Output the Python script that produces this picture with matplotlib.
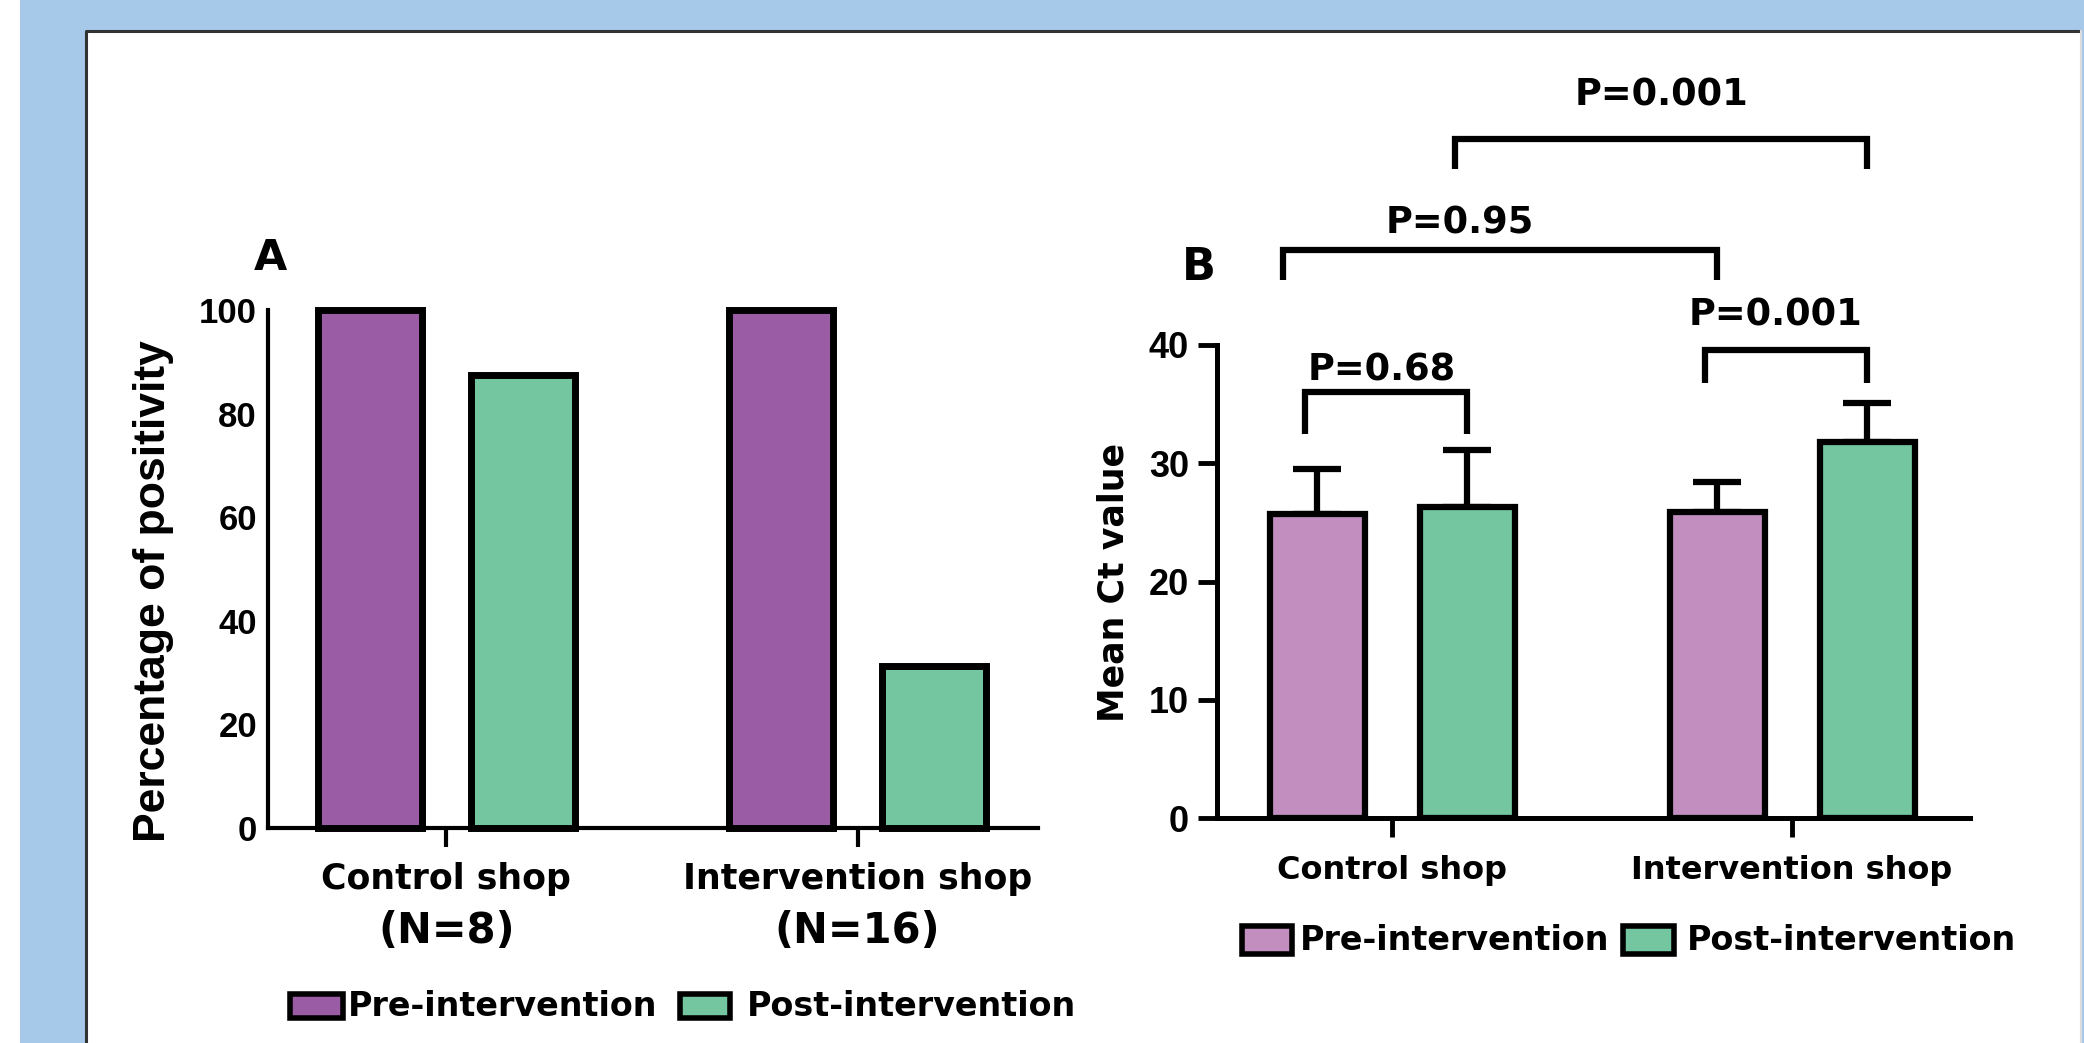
import matplotlib

matplotlib.use("Agg")
import matplotlib.pyplot as plt
import numpy as np
from matplotlib.lines import Line2D
from matplotlib.patches import Rectangle
from matplotlib.transforms import blended_transform_factory

W, H = 2084, 1043

# panel A: percentage of positive samples
groups_a = ["Control shop", "Intervention shop"]
group_n_a = ["(N=8)", "(N=16)"]
pre_positivity = [100, 100]
post_positivity = [87.5, 31.25]
yticks_a = [0, 20, 40, 60, 80, 100]

# panel B: mean Ct value with SD (upper only)
groups_b = ["Control shop", "Intervention shop"]
pre_ct_mean = [25.7, 25.9]
post_ct_mean = [26.3, 31.8]
pre_ct_sd = [3.8, 2.5]
post_ct_sd = [4.8, 3.3]
yticks_b = [0, 10, 20, 30, 40]

series_labels = ["Pre-intervention", "Post-intervention"]

# comparisons in B: bars 0=control pre, 1=control post, 2=intervention pre, 3=intervention post
comp_bars = [(0, 1), (2, 3), (0, 2), (1, 3)]
comp_top = [36.05, 39.6, 48.0, 57.4]
comp_leg = [32.5, 36.8, 45.5, 54.9]
comp_p = ["P=0.68", "P=0.001", "P=0.95", "P=0.001"]

BLUE = "#a6c9ea"
PURPLE_A = "#9b5ca6"
GREEN = "#73c6a0"
PURPLE_B = "#c28dbf"
BOLD = {"family": "DejaVu Sans", "weight": "bold"}
ARIAL = {"family": "Liberation Sans", "weight": "bold"}


def fx(px):
    return px / W


def fy(py):
    return 1 - py / H


fig = plt.figure(figsize=(W / 100, H / 100), dpi=100, facecolor="white")

# blue frame and the white panel border
fig.add_artist(Rectangle((fx(20), 0), fx(W - 20), 1, transform=fig.transFigure,
                         facecolor=BLUE, edgecolor="none", zorder=0))
fig.add_artist(Rectangle((fx(86), 0), fx(2080 - 86), fy(31), transform=fig.transFigure,
                         facecolor="white", edgecolor="none", zorder=0))
fig.add_artist(Line2D([fx(86), fx(86), fx(2080)], [0, fy(31), fy(31)],
                      transform=fig.transFigure, color="#333333", linewidth=2.2, zorder=1))
fig.add_artist(Line2D([fx(2081), fx(2081)], [0, fy(31)], transform=fig.transFigure,
                      color="#dddddd", linewidth=1.5, zorder=1))

# ---------------- panel A ----------------
axA = fig.add_axes([fx(268), fy(828), fx(1038 - 268), (828 - 310) / H])
xa = np.arange(len(groups_a))
off_a, width_a = 0.186, 0.253
axA.bar(xa - off_a, pre_positivity, width_a, color=PURPLE_A, edgecolor="black",
        linewidth=5, zorder=3, clip_on=False)
axA.bar(xa + off_a, post_positivity, width_a, color=GREEN, edgecolor="black",
        linewidth=5, zorder=3, clip_on=False)
axA.set_xlim(-0.434, 1.439)
axA.set_ylim(0, 100)
axA.set_yticks(yticks_a)
axA.set_xticks(xa)
axA.set_xticklabels([])
axA.tick_params(axis="y", length=0, pad=8, labelsize=25, labelfontfamily="Liberation Sans")
axA.tick_params(axis="x", length=14, width=3, direction="out")
for lbl in axA.get_yticklabels():
    lbl.set_fontweight("bold")
for side in ["top", "right"]:
    axA.spines[side].set_visible(False)
for side in ["left", "bottom"]:
    axA.spines[side].set_linewidth(3)
axA.patch.set_alpha(0)

trA = blended_transform_factory(axA.transData, fig.transFigure)
for x, name, n in zip(xa, groups_a, group_n_a):
    axA.text(x, fy(879), name, transform=trA, ha="center", va="center", fontsize=25, **BOLD)
    axA.text(x, fy(931), n, transform=trA, ha="center", va="center", fontsize=30, **BOLD)

fig.text(fx(153), fy(591), "Percentage of positivity", rotation=90, ha="center",
         va="center", fontsize=32, **ARIAL)
fig.text(fx(270), fy(258), "A", ha="center", va="center", fontsize=31, **BOLD)

# legend A
for (x0, x1, tx), color, label in zip([(290, 343, 348), (680, 730, 747)],
                                      [PURPLE_A, GREEN], series_labels):
    fig.add_artist(Rectangle((fx(x0), fy(1018)), fx(x1 - x0), (1018 - 994) / H,
                             transform=fig.transFigure, facecolor=color,
                             edgecolor="black", linewidth=4))
    fig.text(fx(tx), fy(1006), label, ha="left", va="center", fontsize=24, **BOLD)

# ---------------- panel B ----------------
axB = fig.add_axes([fx(1217), fy(818), fx(1970 - 1217), (818 - 345) / H])
xb = np.arange(len(groups_b))
off_b, width_b = 0.1875, 0.2375
zeros = np.zeros(len(groups_b))
axB.errorbar(xb - off_b, pre_ct_mean, yerr=[zeros, pre_ct_sd], fmt="none", ecolor="black",
             elinewidth=4.5, capsize=17, capthick=4.5, zorder=2, clip_on=False)
axB.errorbar(xb + off_b, post_ct_mean, yerr=[zeros, post_ct_sd], fmt="none", ecolor="black",
             elinewidth=4.5, capsize=17, capthick=4.5, zorder=2, clip_on=False)
axB.bar(xb - off_b, pre_ct_mean, width_b, color=PURPLE_B, edgecolor="black",
        linewidth=4.5, zorder=3)
axB.bar(xb + off_b, post_ct_mean, width_b, color=GREEN, edgecolor="black",
        linewidth=4.5, zorder=3)
axB.set_xlim(-0.4375, 1.445)
axB.set_ylim(0, 40)
axB.set_yticks(yticks_b)
axB.set_xticks(xb)
axB.set_xticklabels([])
axB.tick_params(axis="y", length=14, width=3.5, pad=6, labelsize=26,
                labelfontfamily="Liberation Sans")
axB.tick_params(axis="x", length=14, width=3.5)
for lbl in axB.get_yticklabels():
    lbl.set_fontweight("bold")
for side in ["top", "right"]:
    axB.spines[side].set_visible(False)
for side in ["left", "bottom"]:
    axB.spines[side].set_linewidth(3.6)
axB.patch.set_alpha(0)

trB = blended_transform_factory(axB.transData, fig.transFigure)
for x, name in zip(xb, groups_b):
    axB.text(x, fy(870), name, transform=trB, ha="center", va="center", fontsize=23, **BOLD)

# significance brackets
bar_x = [xb[0] - off_b, xb[0] + off_b, xb[1] - off_b, xb[1] + off_b]
leg_nudge = [(-0.03, 0.0), (-0.03, 0.0), (-0.085, 0.0), (-0.03, 0.0)]
text_nudge = [-0.01, -0.025, -0.10, 0.0]
text_lift = [11, 24, 17, 34]
px_per_unit = (818 - 345) / 40
for (i, j), top, leg, p, (ni, nj), tn, lift in zip(comp_bars, comp_top, comp_leg, comp_p,
                                                  leg_nudge, text_nudge, text_lift):
    x1, x2 = bar_x[i] + ni, bar_x[j] + nj
    axB.plot([x1, x1, x2, x2], [leg, top, top, leg], color="black", linewidth=4.5,
             clip_on=False, solid_capstyle="butt", solid_joinstyle="miter")
    axB.text((x1 + x2) / 2 + tn, top + lift / px_per_unit, p, ha="center", va="baseline",
             fontsize=26.5, clip_on=False, **BOLD)

fig.text(fx(1114), fy(583), "Mean Ct value", rotation=90, ha="center", va="center",
         fontsize=25, **BOLD)
fig.text(fx(1199), fy(268), "B", ha="center", va="center", fontsize=32, **BOLD)

# legend B
for (x0, x1, tx), color, label in zip([(1242, 1292, 1300), (1623, 1674, 1687)],
                                      [PURPLE_B, GREEN], series_labels):
    fig.add_artist(Rectangle((fx(x0), fy(954)), fx(x1 - x0), (954 - 926) / H,
                             transform=fig.transFigure, facecolor=color,
                             edgecolor="black", linewidth=4))
    fig.text(fx(tx), fy(941), label, ha="left", va="center", fontsize=24, **BOLD)

fig.savefig("out.png", dpi=100, facecolor=fig.get_facecolor())
